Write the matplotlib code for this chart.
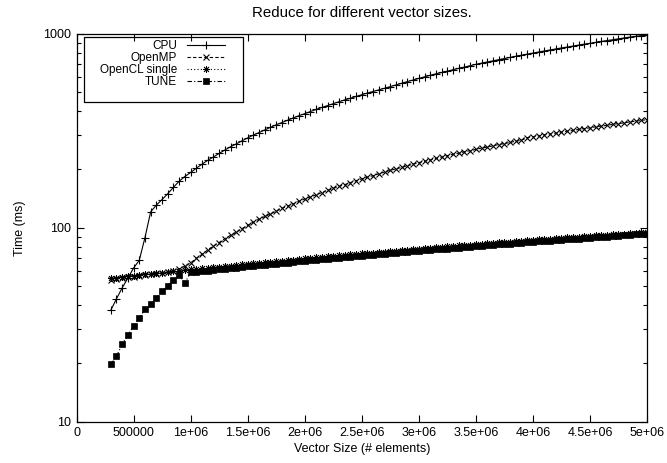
import numpy as np
import matplotlib
matplotlib.use('Agg')
import matplotlib.pyplot as plt
from matplotlib.patches import Rectangle
from matplotlib.ticker import FixedLocator, LogLocator, NullFormatter

plt.rcParams['font.family'] = 'Liberation Sans'
plt.rcParams['font.size'] = 9

# vector sizes, 300000 .. 5000000 in steps of 50000
sizes = np.arange(300000, 5000001, 50000)

cpu = [37.5, 43, 49, 55, 62, 68, 89, 121, 131, 140, 150, 162,
       174, 184, 193, 203, 213, 223, 232, 242, 252, 262, 271, 281,
       291, 301, 310, 320, 330, 340, 349, 359, 369, 379, 388, 398,
       408, 418, 427, 437, 447, 457, 466, 476, 486, 496, 505, 515,
       525, 535, 546, 557, 568, 579, 590, 601, 612, 623, 633, 643,
       654, 665, 675, 686, 697, 707, 717, 727, 737, 747, 757, 767,
       777, 787, 797, 807, 817, 827, 837, 847, 856, 866, 876, 886,
       895, 905, 915, 925, 934, 944, 954, 964, 972, 981, 986]

openmp = [54.0, 54.5, 55.0, 55.5, 56.0, 56.5, 57.0, 57.5, 58.0, 58.5, 59.0, 60.0,
          61.5, 63.5, 66, 69.5, 73, 77, 80.5, 84, 88, 91.5, 95, 99,
          103, 107, 111, 114.5, 118, 122, 126, 129.5, 133, 137, 141, 144.5,
          148, 152, 156, 160, 163.5, 167, 171, 175, 179, 182.5, 186, 190,
          194, 198, 201.5, 205, 209, 213, 217, 220.5, 224, 228, 232, 236,
          239.5, 243, 247, 250, 254, 258, 261, 265, 269, 272, 276, 280,
          283, 292, 295, 298, 302, 305, 308, 312, 315, 318, 322, 325,
          328, 332, 335, 338, 342, 345, 348, 352, 355, 358, 362]

opencl_single = [55.0, 55.3, 55.9, 56.2, 56.7, 57.1, 57.6, 57.9, 58.4, 58.8, 59.3, 59.6,
                 60.1, 60.5, 61.0, 61.3, 61.8, 62.2, 62.6, 63.1, 63.5, 63.9, 64.4, 64.8,
                 65.2, 65.6, 66.1, 66.5, 66.9, 67.4, 67.8, 68.2, 68.6, 69.1, 69.5, 69.9,
                 70.4, 70.8, 71.2, 71.6, 72.1, 72.5, 72.9, 73.4, 73.8, 74.2, 74.6, 75.1,
                 75.5, 75.9, 76.4, 76.8, 77.2, 77.6, 78.1, 78.5, 78.9, 79.4, 79.8, 80.2,
                 80.6, 81.1, 81.5, 81.9, 82.4, 82.8, 83.2, 83.6, 84.1, 84.5, 84.9, 85.4,
                 85.8, 86.2, 86.6, 87.1, 87.5, 87.9, 88.4, 88.8, 89.2, 89.6, 90.1, 90.5,
                 90.9, 91.4, 91.8, 92.2, 92.6, 93.1, 93.5, 93.9, 94.4, 94.8, 95.2]

tune = [19.8, 21.7, 25.1, 28.0, 31.2, 34.2, 38.0, 40.3, 43.7, 47.0, 50.2, 54.0,
        56.8, 51.9, 59.0, 59.3, 59.8, 60.2, 60.6, 61.1, 61.5, 61.9, 62.4, 62.8,
        63.2, 63.6, 64.1, 64.5, 64.9, 65.4, 65.8, 66.2, 66.6, 67.1, 67.5, 67.9,
        68.4, 68.8, 69.2, 69.6, 70.1, 70.5, 70.9, 71.4, 71.8, 72.2, 72.6, 73.1,
        73.5, 73.9, 74.4, 74.8, 75.2, 75.6, 76.1, 76.5, 76.9, 77.4, 77.8, 78.2,
        78.6, 79.1, 79.5, 79.9, 80.4, 80.8, 81.2, 81.6, 82.1, 82.5, 82.9, 83.4,
        83.8, 84.2, 84.6, 85.1, 85.5, 85.9, 86.4, 86.8, 87.2, 87.6, 88.1, 88.5,
        88.9, 89.4, 89.8, 90.2, 90.6, 91.1, 91.5, 91.9, 92.4, 92.8, 93.2]

x_ticks = [0, 500000, 1000000, 1500000, 2000000, 2500000, 3000000,
           3500000, 4000000, 4500000, 5000000]
x_tick_labels = ['0', '500000', '1e+06', '1.5e+06', '2e+06', '2.5e+06', '3e+06',
                 '3.5e+06', '4e+06', '4.5e+06', '5e+06']
y_ticks = [10, 100, 1000]
y_tick_labels = ['10', '100', '1000']

fig = plt.figure(figsize=(6.67, 4.63), dpi=100)
ax = fig.add_axes([0.1147, 0.0892, 0.8553, 0.8374])

lw = 0.8
ax.plot(sizes, cpu, color='black', lw=lw, ls='-', marker='+', ms=5.5, mew=0.8, label='CPU')
ax.plot(sizes, openmp, color='black', lw=lw, ls=(0, (3, 2)), marker='x', ms=4.5, mew=0.8,
        label='OpenMP')
ax.plot(sizes, opencl_single, color='black', lw=lw, ls=(0, (1, 2)), marker=(8, 2, 0),
        ms=5, mew=0.6, label='OpenCL single')
ax.plot(sizes, tune, color='black', lw=lw, ls=(0, (4, 2, 1, 2)), marker='s', ms=3.8,
        mew=0.5, label='TUNE')

ax.set_yscale('log')
ax.set_xlim(0, 5000000)
ax.set_ylim(10, 1000)

ax.xaxis.set_major_locator(FixedLocator(x_ticks))
ax.set_xticklabels(x_tick_labels)
ax.yaxis.set_major_locator(FixedLocator(y_ticks))
ax.set_yticklabels(y_tick_labels)
ax.yaxis.set_minor_locator(LogLocator(base=10, subs=np.arange(2, 10)))
ax.yaxis.set_minor_formatter(NullFormatter())

ax.tick_params(which='both', direction='in', top=True, right=True, width=0.8, pad=4)
ax.tick_params(which='major', length=5)
ax.tick_params(which='minor', length=3)
for sp in ax.spines.values():
    sp.set_linewidth(0.9)

ax.set_xlabel('Vector Size (# elements)', labelpad=3)
ax.set_ylabel('Time (ms)', labelpad=12)
ax.set_title('Reduce for different vector sizes.', pad=12)

leg = ax.legend(loc='upper left', bbox_to_anchor=(0.03, 1.0), frameon=False,
                markerfirst=False, handlelength=3.2, handletextpad=0.8,
                labelspacing=0.0, borderaxespad=0.15, fontsize=8.5)
leg._legend_box._children[-1]._children[0].align = 'right'
ax.add_patch(Rectangle((0.0131, 0.8246), 0.2787, 0.1666, transform=ax.transAxes,
                       fill=False, lw=0.9, ec='black', zorder=5))

fig.savefig('out.png', dpi=100)
